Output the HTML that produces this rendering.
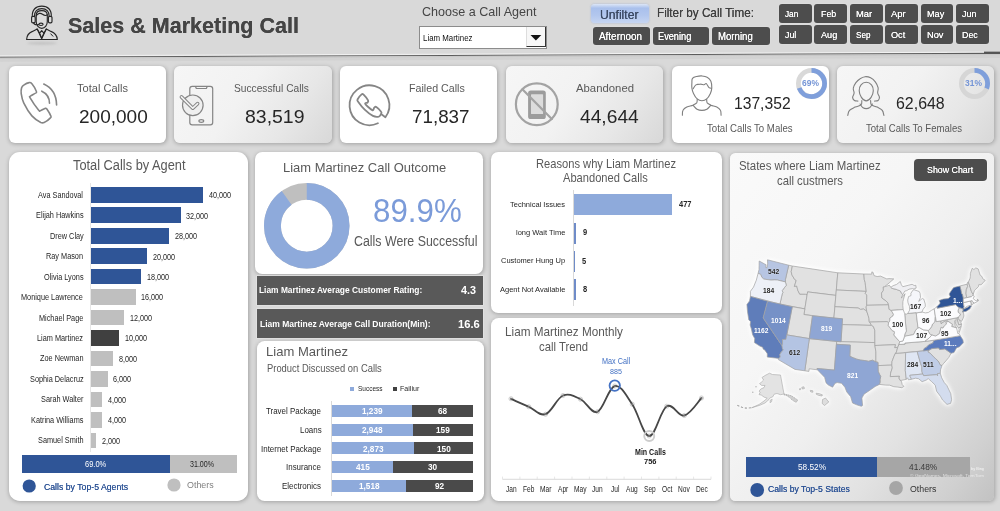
<!DOCTYPE html>
<html><head><meta charset="utf-8"><title>Sales &amp; Marketing Call</title>
<style>
html,body{margin:0;padding:0;}
body{width:1000px;height:511px;overflow:hidden;background:#d9d9d9;font-family:"Liberation Sans",sans-serif;}
#root{position:relative;width:1000px;height:511px;overflow:hidden;background:#d9d9d9;}
#root>div,#root>svg,#root>span{position:absolute;}
#root>span{white-space:nowrap;line-height:1;transform-origin:0 50%;}
</style></head><body><div id="root">
<svg style="left:0;top:0" width="1000" height="70" viewBox="0 0 1000 70"><line x1="0" y1="55.9" x2="1000" y2="52.1" stroke="#f2f2f2" stroke-width="1"/><line x1="0" y1="57.2" x2="1000" y2="53.4" stroke="#5c5c5c" stroke-width="1.1"/><line x1="0" y1="58.5" x2="1000" y2="54.7" stroke="#c9c9c9" stroke-width="1.5"/><line x1="0" y1="60.5" x2="1000" y2="56.7" stroke="#d2d2d2" stroke-width="2.5"/><rect x="984" y="51.6" width="16" height="2.2" fill="#555"/></svg>
<div style="left:419px;top:26px;width:128px;height:22.5px;background:#fff;border-radius:0px;border:1px solid #8c8c8c;box-sizing:border-box;"></div>
<div style="left:526px;top:27px;width:19.5px;height:20px;background:#f7f7f7;border-radius:0px;border-right:1.5px solid #333;border-bottom:1.5px solid #333;border-left:1px solid #ddd;box-sizing:border-box;"></div>
<svg style="left:526px;top:27px" width="20" height="20"><path d="M4.5 8 L15.3 8 L9.9 13.6 Z" fill="#111"/></svg>
<div style="left:591px;top:4.2px;width:58.4px;height:19.0px;background:linear-gradient(#dde6f6 0%,#a9c0ec 22%,#b3c7ee 60%,#c6d5f1 100%);border-radius:3.5px;box-shadow:0 0 2px rgba(120,150,210,.55);"></div>
<div style="left:592.5px;top:27px;width:57.0px;height:18px;background:#4d4d4d;border-radius:3px;box-shadow:0 0 0 .9px #dcdcdc;"></div>
<div style="left:652.5px;top:27px;width:56.5px;height:18px;background:#4d4d4d;border-radius:3px;box-shadow:0 0 0 .9px #dcdcdc;"></div>
<div style="left:712px;top:27px;width:57.5px;height:18px;background:#4d4d4d;border-radius:3px;box-shadow:0 0 0 .9px #dcdcdc;"></div>
<div style="left:779px;top:4px;width:32.8px;height:18.7px;background:#4d4d4d;border-radius:3px;box-shadow:0 0 0 .9px #dcdcdc;"></div>
<div style="left:779px;top:25.2px;width:32.8px;height:18.8px;background:#4d4d4d;border-radius:3px;box-shadow:0 0 0 .9px #dcdcdc;"></div>
<div style="left:814.3px;top:4px;width:32.8px;height:18.7px;background:#4d4d4d;border-radius:3px;box-shadow:0 0 0 .9px #dcdcdc;"></div>
<div style="left:814.3px;top:25.2px;width:32.8px;height:18.8px;background:#4d4d4d;border-radius:3px;box-shadow:0 0 0 .9px #dcdcdc;"></div>
<div style="left:849.8px;top:4px;width:32.8px;height:18.7px;background:#4d4d4d;border-radius:3px;box-shadow:0 0 0 .9px #dcdcdc;"></div>
<div style="left:849.8px;top:25.2px;width:32.8px;height:18.8px;background:#4d4d4d;border-radius:3px;box-shadow:0 0 0 .9px #dcdcdc;"></div>
<div style="left:885.2px;top:4px;width:32.8px;height:18.7px;background:#4d4d4d;border-radius:3px;box-shadow:0 0 0 .9px #dcdcdc;"></div>
<div style="left:885.2px;top:25.2px;width:32.8px;height:18.8px;background:#4d4d4d;border-radius:3px;box-shadow:0 0 0 .9px #dcdcdc;"></div>
<div style="left:920.7px;top:4px;width:32.8px;height:18.7px;background:#4d4d4d;border-radius:3px;box-shadow:0 0 0 .9px #dcdcdc;"></div>
<div style="left:920.7px;top:25.2px;width:32.8px;height:18.8px;background:#4d4d4d;border-radius:3px;box-shadow:0 0 0 .9px #dcdcdc;"></div>
<div style="left:956px;top:4px;width:32.8px;height:18.7px;background:#4d4d4d;border-radius:3px;box-shadow:0 0 0 .9px #dcdcdc;"></div>
<div style="left:956px;top:25.2px;width:32.8px;height:18.8px;background:#4d4d4d;border-radius:3px;box-shadow:0 0 0 .9px #dcdcdc;"></div>
<div style="left:8.8px;top:65.6px;width:157.7px;height:77.4px;background:#fff;border-radius:6px;box-shadow:0.5px 1px 4.5px rgba(0,0,0,.26);"></div>
<div style="left:174.3px;top:65.6px;width:157.5px;height:77.4px;background:linear-gradient(125deg,#f6f6f6 0%,#f2f2f2 42%,#e7e7e7 72%,#d8d8d8 100%);border-radius:6px;box-shadow:0.5px 1px 4.5px rgba(0,0,0,.26);"></div>
<div style="left:339.8px;top:65.6px;width:157.5px;height:77.4px;background:#fff;border-radius:6px;box-shadow:0.5px 1px 4.5px rgba(0,0,0,.26);"></div>
<div style="left:505.7px;top:65.6px;width:157.2px;height:77.4px;background:linear-gradient(125deg,#f6f6f6 0%,#f2f2f2 42%,#e7e7e7 72%,#d8d8d8 100%);border-radius:6px;box-shadow:0.5px 1px 4.5px rgba(0,0,0,.26);"></div>
<div style="left:671.8px;top:65.6px;width:157.0px;height:77.4px;background:#fff;border-radius:6px;box-shadow:0.5px 1px 4.5px rgba(0,0,0,.26);"></div>
<div style="left:837.3px;top:65.6px;width:157.0px;height:77.4px;background:linear-gradient(125deg,#f6f6f6 0%,#f2f2f2 42%,#e7e7e7 72%,#d8d8d8 100%);border-radius:6px;box-shadow:0.5px 1px 4.5px rgba(0,0,0,.26);"></div>
<svg style="left:0;top:0" width="1000" height="150" viewBox="0 0 1000 150" fill="none" stroke-linecap="round" stroke-linejoin="round"><ellipse cx="42" cy="43.3" rx="15" ry="1.5" fill="#9a9a9a" opacity=".35" style="filter:blur(1.2px)"/><g stroke="#262626" stroke-width="1.15"><path d="M26.6 39.5 C26.8 34.5 29.5 32.6 32.5 31.4 L37.2 29 L41.7 38.6 L46.3 29 L51 31.4 C54 32.6 57 34.5 57.3 39.5 Z" fill="#dcdcdc"/><path d="M37.2 29 L39.6 33.2 L41.7 30.6 L43.9 33.2 L46.3 29 M39.6 33.2 L41.7 38.4 L43.9 33.2" /><path d="M50.8 33.9 L52.9 36.2" stroke-width="1"/><path d="M36.2 15.2 C36.2 12 38.8 10.6 41.8 10.6 C44.8 10.6 47.3 12 47.3 15.2 L47.3 21.5 C47.3 25.5 44.8 28.3 41.8 28.3 C38.8 28.3 36.2 25.5 36.2 21.5 Z" fill="#dcdcdc"/><path d="M36.2 15.8 C38 13 40.5 12.7 42.5 14.2 C44.2 15.5 46 15.9 47.3 14.8"/><path d="M32.3 17 C31.8 9.5 36 6.1 41.8 6.1 C47.6 6.1 51.8 9.5 51.3 17"/><path d="M34.4 16.6 C34.2 11.3 37.3 8.6 41.8 8.6 C46.3 8.6 49.4 11.3 49.2 16.6"/><rect x="31.6" y="16.3" width="3.6" height="6.6" rx="1.3" fill="#dcdcdc"/><rect x="48.4" y="16.3" width="3.6" height="6.6" rx="1.3" fill="#dcdcdc"/><path d="M33.6 22.9 C34 24.6 36 25 38.8 24.6"/><ellipse cx="41" cy="24.2" rx="2.1" ry="1.1" fill="#fff"/></g><path d="M23.7 85.1C25.0 84.2 27.8 82.8 29.2 82.6C30.5 82.4 30.7 82.3 31.9 83.7C33.1 85.1 35.7 89.7 36.3 91.2C36.9 92.8 36.7 92.2 35.8 93.0C34.8 93.8 31.5 95.2 30.5 96.0C29.6 96.9 28.9 95.8 30.3 98.1C31.6 100.4 36.8 107.9 38.5 110.0C40.2 112.1 39.3 111.0 40.4 110.7C41.6 110.4 44.2 108.6 45.3 108.4C46.4 108.1 46.1 108.1 47.0 109.3C47.9 110.6 50.3 114.5 50.8 115.9C51.4 117.3 51.4 116.9 50.4 117.9C49.4 119.0 46.5 121.3 44.9 122.1C43.3 122.8 43.0 123.5 40.8 122.5C38.7 121.4 34.8 119.2 31.9 115.9C29.1 112.6 25.5 106.6 23.7 102.9C21.9 99.1 21.6 95.8 21.2 93.3C20.9 90.8 21.2 89.2 21.6 87.8C22.1 86.4 22.4 85.9 23.7 85.1Z" stroke="#858585" stroke-width="1.6"/><path d="M41.8 91.2 Q49.4 94.6 49.5 103.3 M43.8 84.1 Q56.2 89.8 56.6 104.9" stroke="#858585" stroke-width="1.6"/><g stroke="#858585" stroke-width="1.2"><rect x="189.8" y="86.4" width="22.9" height="38.4" rx="2.4"/><path d="M195.5 86.6 L196.3 88.5 L206.4 88.5 L207.2 86.6"/><ellipse cx="201.3" cy="121" rx="2.4" ry="1.3"/><circle cx="192.8" cy="105.3" r="10.3" fill="#efefef"/></g><path d="M181.4 96.9 L192.8 108.2 L197.6 103.6" stroke="#858585" stroke-width="3.6"/><path d="M181.4 96.9 L192.8 108.2 L197.6 103.6" stroke="#f3f3f3" stroke-width="1.6"/><path d="M377.9 123.3 A19.9 19.9 0 1 1 385.4 117.2 L381.4 114.2" stroke="#858585" stroke-width="1.8"/><path d="M357.5 99.5C358.1 98.2 360.6 95.2 361.6 94.4C362.6 93.6 362.5 93.7 363.6 94.7C364.6 95.7 367.4 99.1 368.1 100.4C368.7 101.7 367.9 102.0 367.4 102.6C366.9 103.2 364.5 102.7 365.3 104.0C366.1 105.2 370.7 109.5 372.2 110.1C373.7 110.8 373.6 108.2 374.2 107.7C374.9 107.1 375.2 106.3 376.3 107.0C377.4 107.7 380.3 110.6 381.1 111.8C381.9 112.9 381.5 113.0 381.1 113.8C380.7 114.6 380.1 116.2 378.8 116.6C377.4 116.9 375.2 117.0 372.9 115.9C370.5 114.7 367.1 112.0 364.7 109.7C362.3 107.4 359.7 103.9 358.5 102.2C357.3 100.5 357.0 100.8 357.5 99.5Z" stroke="#858585" stroke-width="1.8"/><circle cx="536.8" cy="104.2" r="20.9" stroke="#a3a3a3" stroke-width="2.2"/><rect x="528.1" y="90.4" width="17.7" height="28.6" rx="2.6" fill="#9c9c9c"/><rect x="531" y="94.2" width="12.1" height="19.8" rx=".6" fill="#dcdcdc"/><path d="M522.6 89.4 L551.8 119" stroke="#a3a3a3" stroke-width="2.2"/><g stroke="#7f7f7f" stroke-width="1.1"><path d="M692.5 78.4C693.5 77.1 694.8 76.9 696.7 76.5C698.5 76.0 699.5 75.8 701.6 75.9C703.7 76.1 705.4 76.2 707.2 77.3C709.1 78.4 710.0 79.0 710.9 81.2C711.8 83.4 711.9 85.6 711.8 88.1C711.7 90.5 711.4 91.2 710.4 93.4C709.4 95.5 708.4 97.5 706.7 98.9C705.0 100.4 703.8 100.7 701.9 100.7C700.0 100.7 698.9 100.4 697.2 98.9C695.5 97.5 694.5 95.5 693.5 93.4C692.4 91.2 692.2 90.2 691.9 88.1C691.6 86.0 691.8 84.7 691.9 82.8C692.0 80.8 691.6 79.6 692.5 78.4Z"/><path d="M693.2 88.7C693.6 88.1 694.7 85.7 695.9 84.9C697.1 84.1 699.0 84.1 700.4 84.1C701.7 84.0 703.1 84.8 704.0 84.7C705.0 84.6 705.4 83.1 706.3 83.6C707.1 84.1 708.1 86.9 709.0 87.6C709.9 88.4 711.1 88.2 711.5 88.3"/><path d="M682.4 115.3C682.5 114.3 682.1 111.9 683.0 110.3C683.9 108.6 684.8 108.1 686.8 107.1C688.8 106.1 691.0 106.0 693.0 105.2C694.9 104.3 695.8 104.0 696.7 102.9C697.5 101.7 697.1 100.0 697.2 99.3"/><path d="M706.7 99.3C706.8 100.0 706.4 101.7 707.2 102.9C708.1 104.0 709.0 104.3 710.9 105.2C712.8 106.0 714.9 106.1 716.8 107.1C718.7 108.1 719.6 108.6 720.4 110.3C721.3 111.9 720.9 114.3 721.1 115.3"/><path d="M693.0 105.2C693.8 106.0 695.2 108.2 697.0 109.2C698.8 110.2 699.9 110.4 701.9 110.4C703.9 110.4 705.1 110.2 706.9 109.2C708.7 108.2 710.1 106.0 710.9 105.2"/></g><g stroke="#7f7f7f" stroke-width="1.1"><path d="M857.9 101.1C857.2 101.0 855.4 101.2 854.4 100.5C853.3 99.7 852.7 98.9 852.6 97.4C852.6 95.9 854.0 94.9 854.1 93.0C854.3 91.2 852.9 90.2 853.3 88.2C853.6 86.1 854.5 84.6 855.9 82.7C857.3 80.8 858.2 79.9 860.1 78.7C861.9 77.5 863.0 76.9 865.1 76.7C867.3 76.5 868.6 76.8 870.6 77.8C872.7 78.8 873.8 79.8 875.3 81.8C876.8 83.8 877.6 85.5 878.1 87.7C878.6 90.0 877.4 91.1 877.7 93.0C878.0 94.9 879.4 95.9 879.4 97.4C879.5 98.9 879.1 99.7 878.1 100.5C877.2 101.2 875.3 101.0 874.6 101.1"/><path d="M859.2 90.8C859.1 88.3 859.6 86.6 861.0 84.9C862.4 83.1 864.1 82.2 866.2 82.2C868.4 82.2 870.1 83.1 871.5 84.9C872.9 86.6 873.4 88.3 873.3 90.8C873.2 93.3 872.5 95.4 871.1 97.4C869.7 99.4 868.2 100.9 866.2 100.9C864.3 100.9 862.8 99.4 861.4 97.4C860.0 95.4 859.3 93.3 859.2 90.8Z"/><path d="M860.1 104.0C860.6 104.7 861.5 106.6 862.7 107.5C864.0 108.4 864.8 108.6 866.2 108.6C867.7 108.6 868.5 108.4 869.8 107.5C871.0 106.6 871.9 104.7 872.4 104.0"/><path d="M847.8 115.4C848.1 114.4 848.0 112.1 849.5 110.4C851.0 108.7 853.0 108.2 855.2 107.1C857.5 106.0 859.6 106.2 861.0 104.9C862.3 103.6 861.7 101.4 861.8 100.5"/><path d="M870.6 100.5C870.8 101.4 870.2 103.6 871.5 104.9C872.8 106.2 875.1 106.0 877.2 107.1C879.4 108.2 881.0 108.7 882.3 110.4C883.6 112.1 883.5 114.4 883.9 115.4"/></g></svg>
<svg style="left:793.50px;top:66.20px" width="35.00" height="35.00"><circle cx="17.5" cy="17.5" r="13.10" fill="none" stroke="#d9d9d9" stroke-width="4.80"/><circle cx="17.5" cy="17.5" r="13.10" fill="none" stroke="#7f9fdb" stroke-width="4.80" stroke-dasharray="56.79 82.31" transform="rotate(-90.0 17.5 17.5)"/></svg>
<svg style="left:956.50px;top:66.20px" width="35.00" height="35.00"><circle cx="17.5" cy="17.5" r="13.10" fill="none" stroke="#d6d6d6" stroke-width="4.80"/><circle cx="17.5" cy="17.5" r="13.10" fill="none" stroke="#7f9fdb" stroke-width="4.80" stroke-dasharray="25.52 82.31" transform="rotate(-90.0 17.5 17.5)"/></svg>
<div style="left:8.8px;top:152.2px;width:239.5px;height:348.8px;background:#fff;border-radius:10.8px;box-shadow:0.5px 1px 4.5px rgba(0,0,0,.26);"></div>
<div style="left:90.15px;top:183px;width:0.8px;height:269px;background:#e6e6e6;border-radius:0px;"></div>
<div style="left:90.75px;top:187.0px;width:112.2px;height:15.6px;background:#2f5597;border-radius:0px;"></div>
<div style="left:90.75px;top:207.46px;width:89.76px;height:15.6px;background:#2f5597;border-radius:0px;"></div>
<div style="left:90.75px;top:227.92000000000002px;width:78.54px;height:15.6px;background:#2f5597;border-radius:0px;"></div>
<div style="left:90.75px;top:248.38px;width:56.1px;height:15.6px;background:#2f5597;border-radius:0px;"></div>
<div style="left:90.75px;top:268.84000000000003px;width:50.49px;height:15.6px;background:#2f5597;border-radius:0px;"></div>
<div style="left:90.75px;top:289.3px;width:44.88px;height:15.6px;background:#bfbfbf;border-radius:0px;"></div>
<div style="left:90.75px;top:309.76px;width:33.66px;height:15.6px;background:#bfbfbf;border-radius:0px;"></div>
<div style="left:90.75px;top:330.22px;width:28.05px;height:15.6px;background:#404040;border-radius:0px;"></div>
<div style="left:90.75px;top:350.68px;width:22.44px;height:15.6px;background:#bfbfbf;border-radius:0px;"></div>
<div style="left:90.75px;top:371.14px;width:16.83px;height:15.6px;background:#bfbfbf;border-radius:0px;"></div>
<div style="left:90.75px;top:391.6px;width:11.22px;height:15.6px;background:#bfbfbf;border-radius:0px;"></div>
<div style="left:90.75px;top:412.06px;width:11.22px;height:15.6px;background:#bfbfbf;border-radius:0px;"></div>
<div style="left:90.75px;top:432.52px;width:5.61px;height:15.6px;background:#bfbfbf;border-radius:0px;"></div>
<div style="left:22px;top:455px;width:147.5px;height:18.3px;background:#2f5597;border-radius:0px;"></div>
<div style="left:169.5px;top:455px;width:67.3px;height:18.3px;background:#bfbfbf;border-radius:0px;"></div>
<svg style="left:20px;top:476px" width="200" height="20"><circle cx="9.2" cy="10" r="6.6" fill="#2f5597"/><circle cx="154" cy="9" r="6.6" fill="#bfbfbf"/></svg>
<div style="left:255px;top:152px;width:228px;height:121.6px;background:#fff;border-radius:7.2px;box-shadow:0.5px 1px 4.5px rgba(0,0,0,.26);"></div>
<svg style="left:262.00px;top:180.75px" width="89.50" height="89.50"><circle cx="44.75" cy="44.75" r="34.33" fill="none" stroke="#bfbfbf" stroke-width="16.85"/><circle cx="44.75" cy="44.75" r="34.33" fill="none" stroke="#8eaadb" stroke-width="16.85" stroke-dasharray="193.89 215.67" transform="rotate(-90.0 44.75 44.75)"/></svg>
<div style="left:256.6px;top:276.2px;width:226.8px;height:28.6px;background:#595959;border-radius:0px;box-shadow:0 0 0 .7px #e4e4e4;"></div>
<div style="left:256.6px;top:308.8px;width:226.8px;height:29.2px;background:#595959;border-radius:0px;box-shadow:0 0 0 .7px #e4e4e4;"></div>
<div style="left:257px;top:341.2px;width:227px;height:159.8px;background:#fff;border-radius:7.6px;box-shadow:0.5px 1px 4.5px rgba(0,0,0,.26);"></div>
<div style="left:350px;top:386.6px;width:4.4px;height:4.2px;background:#8eaadb;border-radius:0px;"></div>
<div style="left:392.5px;top:386.6px;width:4.4px;height:4.2px;background:#404040;border-radius:0px;"></div>
<div style="left:331.2px;top:401px;width:0.7px;height:95px;background:#d9d9d9;border-radius:0px;"></div>
<div style="left:331.9px;top:405px;width:80.3px;height:12.1px;background:#8eaadb;border-radius:0px;"></div>
<div style="left:412.2px;top:405px;width:60.5px;height:12.1px;background:#4a4a4a;border-radius:0px;"></div>
<div style="left:331.9px;top:423.5px;width:80.7px;height:12.1px;background:#8eaadb;border-radius:0px;"></div>
<div style="left:412.6px;top:423.5px;width:60.1px;height:12.1px;background:#4a4a4a;border-radius:0px;"></div>
<div style="left:331.9px;top:442.25px;width:82.4px;height:12.1px;background:#8eaadb;border-radius:0px;"></div>
<div style="left:414.3px;top:442.25px;width:58.4px;height:12.1px;background:#4a4a4a;border-radius:0px;"></div>
<div style="left:331.9px;top:461px;width:61.5px;height:12.1px;background:#8eaadb;border-radius:0px;"></div>
<div style="left:393.4px;top:461px;width:79.3px;height:12.1px;background:#4a4a4a;border-radius:0px;"></div>
<div style="left:331.9px;top:479.5px;width:73.9px;height:12.1px;background:#8eaadb;border-radius:0px;"></div>
<div style="left:405.8px;top:479.5px;width:66.9px;height:12.1px;background:#4a4a4a;border-radius:0px;"></div>
<div style="left:491.4px;top:152.4px;width:230.9px;height:160.4px;background:#fff;border-radius:7.2px;box-shadow:0.5px 1px 4.5px rgba(0,0,0,.26);"></div>
<div style="left:573.05px;top:190px;width:0.7px;height:116px;background:#d9d9d9;border-radius:0px;"></div>
<div style="left:573.75px;top:194.25px;width:97.75px;height:21.0px;background:#8eaadb;border-radius:0px;"></div>
<div style="left:573.75px;top:222.5px;width:1.8px;height:21.0px;background:#6f8cc8;border-radius:0px;"></div>
<div style="left:573.75px;top:250.75px;width:1.5px;height:21.0px;background:#6f8cc8;border-radius:0px;"></div>
<div style="left:573.75px;top:279.0px;width:1.8px;height:21.0px;background:#6f8cc8;border-radius:0px;"></div>
<div style="left:491.4px;top:318px;width:230.9px;height:183px;background:#fff;border-radius:7.6px;box-shadow:0.5px 1px 4.5px rgba(0,0,0,.26);"></div>
<svg style="left:0;top:0" width="1000" height="511" viewBox="0 0 1000 511" fill="none"><path d="M502.5 479.3 H711" stroke="#d0d0d0" stroke-width=".8"/><path d="M502.5 476.6 V479.3" stroke="#dcdcdc" stroke-width=".7"/><path d="M519.9 476.6 V479.3" stroke="#dcdcdc" stroke-width=".7"/><path d="M537.2 476.6 V479.3" stroke="#dcdcdc" stroke-width=".7"/><path d="M554.6 476.6 V479.3" stroke="#dcdcdc" stroke-width=".7"/><path d="M572.0 476.6 V479.3" stroke="#dcdcdc" stroke-width=".7"/><path d="M589.4 476.6 V479.3" stroke="#dcdcdc" stroke-width=".7"/><path d="M606.8 476.6 V479.3" stroke="#dcdcdc" stroke-width=".7"/><path d="M624.1 476.6 V479.3" stroke="#dcdcdc" stroke-width=".7"/><path d="M641.5 476.6 V479.3" stroke="#dcdcdc" stroke-width=".7"/><path d="M658.9 476.6 V479.3" stroke="#dcdcdc" stroke-width=".7"/><path d="M676.2 476.6 V479.3" stroke="#dcdcdc" stroke-width=".7"/><path d="M693.6 476.6 V479.3" stroke="#dcdcdc" stroke-width=".7"/><path d="M711.0 476.6 V479.3" stroke="#dcdcdc" stroke-width=".7"/><circle cx="511" cy="398.75" r="2.1" fill="#ececec" stroke="#c4c4c4" stroke-width=".7"/><circle cx="528.75" cy="406.75" r="2.1" fill="#ececec" stroke="#c4c4c4" stroke-width=".7"/><circle cx="545.5" cy="414.25" r="2.1" fill="#ececec" stroke="#c4c4c4" stroke-width=".7"/><circle cx="563" cy="395.5" r="2.1" fill="#ececec" stroke="#c4c4c4" stroke-width=".7"/><circle cx="580.5" cy="399.25" r="2.1" fill="#ececec" stroke="#c4c4c4" stroke-width=".7"/><circle cx="597.5" cy="411.75" r="2.1" fill="#ececec" stroke="#c4c4c4" stroke-width=".7"/><circle cx="614.75" cy="386" r="2.1" fill="#ececec" stroke="#c4c4c4" stroke-width=".7"/><circle cx="632.25" cy="404.25" r="2.1" fill="#ececec" stroke="#c4c4c4" stroke-width=".7"/><circle cx="649.25" cy="436" r="2.1" fill="#ececec" stroke="#c4c4c4" stroke-width=".7"/><circle cx="666.75" cy="406.25" r="2.1" fill="#ececec" stroke="#c4c4c4" stroke-width=".7"/><circle cx="684.25" cy="415.5" r="2.1" fill="#ececec" stroke="#c4c4c4" stroke-width=".7"/><circle cx="701.5" cy="398" r="2.1" fill="#ececec" stroke="#c4c4c4" stroke-width=".7"/><path d="M511.0 398.8C514.3 400.2 522.4 403.9 528.8 406.8C535.1 409.6 539.2 416.3 545.5 414.2C551.8 412.2 556.6 398.2 563.0 395.5C569.4 392.8 574.2 396.3 580.5 399.2C586.8 402.2 591.2 414.2 597.5 411.8C603.8 409.3 608.4 387.4 614.8 386.0C621.1 384.6 625.9 395.1 632.2 404.2C638.6 413.4 642.9 435.6 649.2 436.0C655.6 436.4 660.3 410.0 666.8 406.2C673.2 402.5 677.9 417.0 684.2 415.5C690.6 414.0 698.3 401.2 701.5 398.0" stroke="#474747" stroke-width="1.8" stroke-linecap="round"/><circle cx="511" cy="398.75" r="1.1" fill="#9a9a9a" opacity=".55"/><circle cx="528.75" cy="406.75" r="1.1" fill="#9a9a9a" opacity=".55"/><circle cx="545.5" cy="414.25" r="1.1" fill="#9a9a9a" opacity=".55"/><circle cx="563" cy="395.5" r="1.1" fill="#9a9a9a" opacity=".55"/><circle cx="580.5" cy="399.25" r="1.1" fill="#9a9a9a" opacity=".55"/><circle cx="597.5" cy="411.75" r="1.1" fill="#9a9a9a" opacity=".55"/><circle cx="614.75" cy="386" r="1.1" fill="#9a9a9a" opacity=".55"/><circle cx="632.25" cy="404.25" r="1.1" fill="#9a9a9a" opacity=".55"/><circle cx="649.25" cy="436" r="1.1" fill="#9a9a9a" opacity=".55"/><circle cx="666.75" cy="406.25" r="1.1" fill="#9a9a9a" opacity=".55"/><circle cx="684.25" cy="415.5" r="1.1" fill="#9a9a9a" opacity=".55"/><circle cx="701.5" cy="398" r="1.1" fill="#9a9a9a" opacity=".55"/><circle cx="614.75" cy="385.6" r="5.2" stroke="#4472c4" stroke-width="1.8"/><circle cx="649.25" cy="436" r="5.0" stroke="#cdcdcd" stroke-width="1.9"/></svg>
<div style="left:730px;top:152.6px;width:263.6px;height:348.4px;background:linear-gradient(127deg,#fafafa 0%,#f6f6f6 35%,#efefef 55%,#e2e2e2 73%,#d0d0d0 90%,#c2c2c2 100%);border-radius:5.5px;box-shadow:0.5px 1px 4.5px rgba(0,0,0,.26);"></div>
<div style="left:914.3px;top:159px;width:72.5px;height:22.4px;background:#4d4d4d;border-radius:4px;box-shadow:0 0 0 1.1px #f4f4f4;"></div>
<svg style="left:0;top:0" width="1000" height="511" viewBox="0 0 1000 511" stroke-linejoin="round"><g style="filter:drop-shadow(0 0 2.5px rgba(255,255,255,.95)) drop-shadow(0 0 1.5px rgba(255,255,255,.8))"><path d="M788.7 265.2L792.4 266.0L791.2 271.6L791.9 274.9L794.7 279.5L796.2 280.4L794.4 286.4L796.7 286.0L797.9 290.5L799.7 294.1L805.4 294.2L807.1 294.7L804.9 308.9L779.9 304.1L782.2 294.0L782.9 292.4L782.2 290.6L784.3 287.8L786.3 285.3L785.4 281.9L785.4 279.6L788.7 265.2Z" fill="#e1e1e1" stroke="#a0a0a0" stroke-width=".7"/><path d="M792.4 266.0L791.2 271.6L791.9 274.9L794.7 279.5L796.2 280.4L794.4 286.4L796.7 286.0L797.9 290.5L799.7 294.1L805.4 294.2L807.1 294.7L807.6 291.9L835.9 295.4L837.8 272.8Z" fill="#e1e1e1" stroke="#a0a0a0" stroke-width=".7"/><path d="M807.6 291.9L835.9 295.4L833.9 318.2L803.9 314.5Z" fill="#e1e1e1" stroke="#a0a0a0" stroke-width=".7"/><path d="M792.3 306.7L804.9 308.9L803.9 314.5L812.5 315.8L809.3 338.6L786.8 334.9Z" fill="#e1e1e1" stroke="#a0a0a0" stroke-width=".7"/><path d="M809.3 338.6L836.7 341.5L836.5 344.3L834.4 370.1L817.1 368.5L817.4 369.8L809.2 368.8L808.9 371.4L804.8 370.8Z" fill="#e1e1e1" stroke="#a0a0a0" stroke-width=".7"/><path d="M837.8 272.8L863.9 274.0L864.3 279.7L865.2 282.5L865.5 285.9L866.3 291.4L836.3 290.0Z" fill="#e1e1e1" stroke="#a0a0a0" stroke-width=".7"/><path d="M836.3 290.0L866.3 291.4L865.2 293.3L866.8 295.0L866.7 305.3L866.1 307.0L866.7 311.1L863.5 309.0L860.6 309.4L858.1 308.0L834.9 306.7Z" fill="#e1e1e1" stroke="#a0a0a0" stroke-width=".7"/><path d="M834.9 306.7L858.1 308.0L860.6 309.4L863.5 309.0L866.7 311.1L868.2 315.6L869.0 318.5L869.2 321.4L869.6 322.1L871.6 325.4L842.1 324.6L842.5 318.8L833.9 318.2Z" fill="#e1e1e1" stroke="#a0a0a0" stroke-width=".7"/><path d="M842.1 324.6L871.6 325.4L873.4 326.5L874.8 330.3L874.9 342.6L841.0 341.8Z" fill="#e1e1e1" stroke="#a0a0a0" stroke-width=".7"/><path d="M836.7 341.5L874.9 342.6L874.9 345.5L875.9 351.8L875.9 361.9L872.4 360.2L868.6 361.3L864.3 360.5L860.5 360.1L856.8 359.2L853.5 357.9L849.8 356.3L850.3 345.1L836.5 344.3Z" fill="#e1e1e1" stroke="#a0a0a0" stroke-width=".7"/><path d="M863.9 274.0L871.8 274.1L871.8 271.9L873.1 272.4L874.0 275.6L877.1 276.5L880.5 276.1L884.1 277.7L886.8 278.9L889.0 278.6L893.8 278.9L889.0 283.1L884.4 286.8L883.3 287.0L883.4 290.4L881.5 293.1L881.9 298.0L885.0 300.1L888.0 302.9L888.5 304.8L866.7 305.3L866.8 295.0L865.2 293.3L866.3 291.4L865.5 285.9L865.2 282.5L864.3 279.7L863.9 274.0Z" fill="#e1e1e1" stroke="#a0a0a0" stroke-width=".7"/><path d="M866.7 305.3L888.5 304.8L889.2 309.4L891.2 310.4L893.5 314.3L892.8 316.1L889.9 318.0L889.8 320.9L888.5 322.8L887.1 321.6L869.6 322.1L869.2 321.4L869.0 318.5L868.2 315.6L866.7 311.1L866.1 307.0L866.7 305.3Z" fill="#e1e1e1" stroke="#a0a0a0" stroke-width=".7"/><path d="M869.6 322.1L887.1 321.6L888.5 322.8L888.3 325.5L892.1 330.5L894.4 331.6L894.5 332.7L893.9 335.0L898.1 340.0L899.8 341.7L898.9 344.5L897.7 347.5L894.6 347.7L895.4 344.7L874.9 345.5L874.9 342.6L874.8 330.3L873.4 326.5L871.6 325.4L869.6 322.1Z" fill="#e1e1e1" stroke="#a0a0a0" stroke-width=".7"/><path d="M874.9 345.5L895.4 344.7L894.6 347.7L897.7 347.5L896.2 352.8L895.3 353.4L894.0 356.3L892.0 361.6L891.8 365.1L878.0 365.6L878.0 362.4L875.9 361.9L875.9 351.8L874.9 345.5Z" fill="#e1e1e1" stroke="#a0a0a0" stroke-width=".7"/><path d="M878.0 365.6L891.8 365.1L892.3 367.9L890.6 373.2L890.3 376.6L899.5 376.1L899.0 378.1L900.4 380.6L901.5 381.4L902.2 384.5L903.9 386.4L901.9 387.7L897.8 387.1L893.8 386.7L889.7 385.2L885.7 385.1L879.4 384.4L880.1 382.1L880.0 379.8L880.7 376.4L879.4 374.1L878.2 371.3L878.0 365.6Z" fill="#e1e1e1" stroke="#a0a0a0" stroke-width=".7"/><path d="M891.8 365.1L892.0 361.6L894.0 356.3L895.3 353.4L905.1 352.7L905.6 353.2L905.3 370.5L906.3 379.3L900.4 380.6L899.0 378.1L899.5 376.1L890.3 376.6L890.6 373.2L892.3 367.9Z" fill="#e1e1e1" stroke="#a0a0a0" stroke-width=".7"/><path d="M928.8 350.2L931.9 348.6L938.2 347.9L938.8 348.1L939.7 349.6L944.9 348.9L951.1 353.3L948.7 357.6L945.9 360.9L943.4 363.7L942.0 365.5L940.5 365.3L938.1 361.0L935.8 358.8L934.2 357.5L930.2 353.2L927.9 352.0L928.8 350.2Z" fill="#e1e1e1" stroke="#a0a0a0" stroke-width=".7"/><path d="M895.3 353.4L923.2 350.9L924.3 348.4L926.5 347.2L929.0 344.6L930.3 344.2L932.9 342.9L934.0 340.2L924.9 341.4L904.9 343.0L905.0 344.1L898.9 344.5L897.7 347.5L896.2 352.8L895.3 353.4Z" fill="#e1e1e1" stroke="#a0a0a0" stroke-width=".7"/><path d="M928.3 330.4L929.9 329.1L931.6 326.5L932.5 324.1L934.8 322.0L935.1 316.7L935.4 316.4L936.3 321.6L940.8 320.9L941.3 323.8L943.1 322.0L945.6 320.7L946.3 320.0L948.8 321.7L946.0 321.8L946.5 324.1L944.4 325.8L942.9 328.2L941.2 327.3L939.3 333.8L935.6 336.1L931.9 335.0L930.3 334.6L928.5 331.8L928.3 330.4Z" fill="#e1e1e1" stroke="#a0a0a0" stroke-width=".7"/><path d="M904.7 313.7L906.2 314.2L907.7 313.5L916.2 312.6L916.2 312.9L918.0 327.8L915.7 330.2L914.4 333.0L913.5 334.6L909.9 335.3L906.8 335.8L904.4 336.6L904.9 334.0L906.4 331.0L905.9 327.5L904.7 313.7Z" fill="#e1e1e1" stroke="#a0a0a0" stroke-width=".7"/><path d="M884.4 286.8L883.3 287.0L883.4 290.4L881.5 293.1L881.9 298.0L885.0 300.1L888.0 302.9L888.5 304.8L889.2 309.4L891.2 310.4L903.2 309.6L902.8 305.6L902.9 301.6L903.5 299.2L905.0 293.7L903.6 295.8L901.3 298.0L902.7 294.7L901.7 293.4L900.3 290.9L897.4 289.8L896.2 289.3L892.0 288.4L890.8 287.3L889.3 285.1L887.6 285.8Z" fill="#e1e1e1" stroke="#a0a0a0" stroke-width=".7"/><path d="M959.2 307.6L963.1 308.8L963.1 310.6L962.3 312.0L963.5 312.3L963.9 316.0L963.1 318.3L961.5 321.4L959.3 319.7L957.9 318.3L958.3 317.0L959.4 316.1L960.5 314.1L958.1 312.3L958.1 310.3L959.2 307.6Z" fill="#e1e1e1" stroke="#a0a0a0" stroke-width=".7"/><path d="M956.7 317.8L958.3 317.0L957.9 318.3L958.9 319.8L960.8 322.3L961.5 324.2L958.6 324.8Z" fill="#e1e1e1" stroke="#a0a0a0" stroke-width=".7"/><path d="M940.8 320.9L956.7 317.8L958.6 324.8L961.5 324.2L961.1 326.8L958.4 327.9L957.1 326.1L955.6 323.4L955.9 319.6L954.6 321.0L955.1 325.3L956.6 327.9L953.1 326.9L951.7 326.6L952.3 324.1L950.0 322.8L948.8 321.7L946.3 320.0L945.6 320.7L943.1 322.0L941.3 323.8L940.8 320.9Z" fill="#e1e1e1" stroke="#a0a0a0" stroke-width=".7"/><path d="M970.4 301.0L972.1 300.6L972.3 301.2L973.3 302.1L973.9 303.2L972.6 304.4L971.2 305.0L971.3 304.5L970.4 301.0Z" fill="#e1e1e1" stroke="#a0a0a0" stroke-width=".7"/><path d="M959.9 286.0L967.2 284.1L967.6 286.5L966.3 289.7L966.0 293.4L966.7 297.7L963.3 298.5L962.3 294.0L961.6 293.8L961.0 290.5L959.9 286.0Z" fill="#e1e1e1" stroke="#a0a0a0" stroke-width=".7"/><path d="M967.2 284.1L967.5 282.3L968.4 282.1L970.2 287.5L971.4 291.4L972.8 294.0L973.3 294.0L973.1 295.3L972.8 295.3L971.4 296.7L966.7 297.7L966.0 293.4L966.3 289.7L967.6 286.5L967.2 284.1Z" fill="#e1e1e1" stroke="#a0a0a0" stroke-width=".7"/><path d="M973.3 294.0L972.8 294.0L971.4 291.4L970.2 287.5L968.4 282.1L970.1 278.1L970.3 276.3L970.4 273.3L972.2 268.3L973.9 269.5L975.8 267.9L978.2 268.9L980.2 275.2L982.0 276.5L982.7 278.6L985.2 280.3L983.3 282.6L981.0 284.8L978.8 284.6L978.5 286.5L975.8 289.3L974.5 290.5Z" fill="#e1e1e1" stroke="#a0a0a0" stroke-width=".7"/><path d="M759.2 261.0L764.8 264.1L766.1 264.7L765.8 267.6L766.9 267.6L767.7 264.0L767.5 259.8L788.7 265.2L788.7 265.2L785.4 279.6L785.4 281.9L777.3 280.0L774.8 279.9L771.0 280.1L768.2 279.7L763.8 279.1L761.9 277.4L760.6 274.3L758.1 273.3L759.0 269.7L759.1 265.6Z" fill="#b7c5e2" stroke="#a0a0a0" stroke-width=".7"/><path d="M758.1 273.3L760.6 274.3L761.9 277.4L763.8 279.1L768.2 279.7L771.0 280.1L774.8 279.9L777.3 280.0L785.4 281.9L786.3 285.3L784.3 287.8L782.2 290.6L782.9 292.4L782.2 294.0L779.9 304.1L750.4 296.4L750.4 291.3L753.5 287.1L756.3 280.2Z" fill="#edf0f7" stroke="#a0a0a0" stroke-width=".7"/><path d="M767.6 301.2L763.2 317.9L782.0 345.7L782.5 348.7L783.4 350.1L781.3 352.0L779.8 354.6L780.3 357.0L779.0 358.4L767.3 357.1L767.3 353.7L764.7 349.9L763.0 348.9L762.9 347.4L759.8 346.1L754.4 342.6L754.7 338.5L752.6 334.7L751.4 329.0L750.1 325.0L750.6 321.6L748.8 319.9L747.5 311.7L746.9 304.6L749.5 300.9L750.4 296.4Z" fill="#5f7dba" stroke="#a0a0a0" stroke-width=".7"/><path d="M767.6 301.2L792.3 306.7L786.8 334.9L785.9 339.4L782.6 339.5L782.5 344.6L782.0 345.7L763.2 317.9L767.6 301.2Z" fill="#7691c7" stroke="#a0a0a0" stroke-width=".7"/><path d="M812.5 315.8L842.5 318.8L841.0 341.8L809.3 338.6Z" fill="#8fa6d4" stroke="#a0a0a0" stroke-width=".7"/><path d="M786.8 334.9L809.3 338.6L804.8 370.8L795.0 369.4L778.3 359.6L779.0 358.4L780.3 357.0L779.8 354.6L781.3 352.0L783.4 350.1L782.5 348.7L782.0 345.7L782.5 344.6L782.6 339.5L785.9 339.4L786.8 334.9Z" fill="#b4c4e3" stroke="#a0a0a0" stroke-width=".7"/><path d="M836.3 344.3L850.3 345.1L849.8 356.3L853.5 357.9L856.8 359.2L860.5 360.1L864.3 360.5L868.6 361.3L872.4 360.2L875.9 361.9L878.0 362.4L878.0 365.6L878.2 371.3L879.4 374.1L880.7 376.4L880.0 379.8L880.1 382.1L879.4 384.4L875.2 386.5L869.1 390.8L864.0 394.2L861.9 398.1L862.6 405.5L861.3 406.3L856.6 404.8L852.5 403.0L850.7 396.7L846.8 392.0L844.9 387.3L841.6 383.3L837.2 382.6L835.1 383.3L832.6 387.2L828.4 385.1L826.1 382.9L824.6 377.3L819.7 372.2L817.4 369.8L817.1 368.5L834.4 370.1Z" fill="#8fa6d4" stroke="#a0a0a0" stroke-width=".7"/><path d="M905.1 352.7L917.2 351.6L920.6 363.5L921.8 366.7L921.9 371.3L922.7 374.0L909.9 375.3L910.0 376.2L911.2 378.4L910.8 379.4L908.3 379.8L907.7 377.8L906.3 379.3L905.3 370.5L905.6 353.2L905.1 352.7Z" fill="#dfe6f3" stroke="#a0a0a0" stroke-width=".7"/><path d="M917.2 351.6L928.8 350.2L927.9 352.0L930.2 353.2L934.2 357.5L935.8 358.8L938.1 361.0L940.5 365.3L942.0 365.5L940.5 369.9L940.3 373.3L937.5 373.6L937.6 375.8L936.7 374.7L923.6 375.7L922.7 374.0L921.9 371.3L921.8 366.7L920.6 363.5L917.2 351.6Z" fill="#c0cde7" stroke="#a0a0a0" stroke-width=".7"/><path d="M909.9 375.3L922.7 374.0L923.6 375.7L936.7 374.7L937.6 375.8L937.5 373.6L940.3 373.3L941.7 377.8L944.3 382.6L946.8 385.4L950.8 393.7L951.6 399.8L950.6 403.4L947.0 404.4L942.6 400.1L940.5 396.4L936.6 391.2L935.2 385.1L931.6 381.6L928.2 378.6L926.6 379.9L922.1 381.7L918.7 378.8L915.7 378.2L910.8 379.4L911.2 378.4L910.0 376.2L909.9 375.3Z" fill="#d3dcee" stroke="#a0a0a0" stroke-width=".7"/><path d="M923.2 350.9L924.3 348.4L926.5 347.2L929.0 344.6L930.3 344.2L932.9 342.9L934.0 340.2L960.2 335.7L962.9 339.8L963.4 342.8L959.6 346.7L956.5 347.9L954.0 352.5L951.1 353.3L944.9 348.9L939.7 349.6L938.8 348.1L938.2 347.9L931.9 348.6L928.8 350.2L923.2 350.9Z" fill="#5b7bbd" stroke="#a0a0a0" stroke-width=".7"/><path d="M898.9 344.5L905.0 344.1L904.9 343.0L924.9 341.4L929.0 338.2L931.9 335.0L930.3 334.6L928.5 331.8L928.3 330.4L923.3 329.8L919.4 327.6L918.0 327.8L915.7 330.2L914.4 333.0L913.5 334.6L909.9 335.3L906.8 335.8L904.4 336.6L903.0 340.9L899.8 341.7L898.9 344.5Z" fill="#fafbfd" stroke="#a0a0a0" stroke-width=".7"/><path d="M924.9 341.4L934.0 340.2L960.2 335.7L959.2 333.6L957.8 333.6L957.1 330.2L956.6 327.9L953.1 326.9L951.7 326.6L952.3 324.1L950.0 322.8L948.8 321.7L946.0 321.8L946.5 324.1L944.4 325.8L942.9 328.2L941.2 327.3L939.3 333.8L935.6 336.1L931.9 335.0L929.0 338.2L924.9 341.4Z" fill="#fbfbfd" stroke="#a0a0a0" stroke-width=".7"/><path d="M916.2 312.9L922.0 312.0L925.4 312.9L928.3 312.5L931.5 310.3L934.2 308.8L935.4 316.4L935.1 316.7L934.8 322.0L932.5 324.1L931.6 326.5L929.9 329.1L928.3 330.4L923.3 329.8L919.4 327.6L918.0 327.8L916.2 312.9Z" fill="#fbfbfd" stroke="#a0a0a0" stroke-width=".7"/><path d="M891.2 310.4L903.2 309.6L904.7 313.7L905.9 327.5L906.4 331.0L904.9 334.0L904.4 336.6L903.0 340.9L899.8 341.7L898.1 340.0L893.9 335.0L894.5 332.7L894.4 331.6L892.1 330.5L888.3 325.5L888.5 322.8L889.8 320.9L889.9 318.0L892.8 316.1L893.5 314.3L891.2 310.4Z" fill="#fbfbfd" stroke="#a0a0a0" stroke-width=".7"/><path d="M907.7 313.5L916.2 312.6L916.2 312.9L922.0 312.0L923.1 309.2L925.3 306.5L925.3 304.2L923.8 299.2L922.3 298.5L918.7 301.4L920.5 297.4L920.1 293.4L919.2 291.5L913.9 289.7L912.8 290.3L910.9 293.3L911.0 295.6L908.6 296.5L907.7 300.0L908.0 302.8L909.4 306.2L909.6 310.2Z" fill="#f5f6fa" stroke="#a0a0a0" stroke-width=".7"/><path d="M890.8 287.3L892.0 288.4L896.2 289.3L897.4 289.8L900.3 290.9L901.7 293.4L902.7 294.7L904.8 291.1L906.8 290.6L909.0 289.2L912.6 288.6L913.9 289.0L916.2 288.1L915.8 285.3L914.2 285.5L912.1 284.3L908.2 285.3L902.8 286.7L901.4 284.8L900.3 281.5L896.6 284.4L893.1 285.7Z" fill="#efeff2" stroke="#a0a0a0" stroke-width=".7"/><path d="M934.2 308.8L937.1 306.6L937.3 308.2L955.7 304.6L957.5 306.6L959.2 307.6L958.1 310.3L958.1 312.3L960.5 314.1L959.4 316.1L958.3 317.0L956.7 317.8L940.8 320.9L936.3 321.6L935.4 316.4Z" fill="#fbfbfd" stroke="#a0a0a0" stroke-width=".7"/><path d="M937.3 308.2L937.1 306.6L939.8 303.7L940.0 302.5L939.0 300.6L943.2 299.1L948.2 298.6L950.3 296.7L949.1 294.0L950.9 291.3L953.4 287.8L954.6 287.3L959.9 286.0L961.0 290.5L961.6 293.8L962.3 294.0L963.3 298.5L963.3 302.6L964.1 306.8L963.7 308.1L964.1 308.6L963.8 309.2L966.0 308.0L968.4 307.0L969.4 305.8L971.6 305.8L969.8 309.0L965.9 311.4L963.3 311.7L962.3 312.0L963.1 310.6L963.1 308.8L959.2 307.6L957.5 306.6L955.7 304.6Z" fill="#2f5597" stroke="#a0a0a0" stroke-width=".7"/><path d="M958.4 327.9L961.1 326.8L960.2 329.8L959.2 332.6L958.7 331.6L959.3 328.8Z" fill="#fbfbfd" stroke="#a0a0a0" stroke-width=".7"/><path d="M963.3 302.6L970.4 301.0L971.3 304.5L971.2 305.0L966.9 306.4L964.1 308.6L963.7 308.1L964.1 306.8L963.3 302.6Z" fill="#fcfcfe" stroke="#a0a0a0" stroke-width=".7"/><path d="M963.3 302.6L963.3 298.5L966.7 297.7L971.4 296.7L972.8 295.3L973.1 295.3L974.3 296.2L973.2 298.6L975.2 300.2L976.1 300.9L978.1 300.3L977.3 298.9L978.5 300.7L976.0 302.3L973.9 303.2L973.3 302.1L972.3 301.2L972.1 300.6L970.4 301.0L963.3 302.6Z" fill="#fcfcfe" stroke="#a0a0a0" stroke-width=".7"/><path d="M762.0 377.5L765.0 375.5L769.5 373.2L772.5 374.5L780.5 375.0L784.0 394.0L780.5 394.7L777.0 393.5L774.2 394.2L772.8 396.8L770.2 397.8L769.0 399.5L765.0 403.0L760.0 405.2L753.0 407.4L751.5 407.8L759.0 404.5L764.0 401.0L767.2 398.2L764.2 397.2L761.2 395.0L759.0 394.6L760.2 392.2L759.0 391.2L760.8 389.0L764.0 387.6L765.0 385.4L761.8 385.6L759.5 383.6L761.2 382.4L763.6 380.0Z" fill="#e3e3e3" stroke="#a6a6a6" stroke-width=".6"/><path d="M784.0 394.0L788.0 394.8L791.5 395.8L797.8 400.0L796.2 402.4L792.8 400.6L789.5 397.6L786.2 395.4L783.8 394.8Z" fill="#cfcfcf" stroke="#9a9a9a" stroke-width=".6" stroke-dasharray="1.4 .7"/><path d="M751.0 407.8L746.0 408.1L742.0 407.3L737.2 405.3" fill="none" stroke="#a3a3a3" stroke-width="1.1" stroke-dasharray="2.2 1.8"/><path d="M770.2 400.2L772.2 399.0L771.6 401.8L770.0 402.8Z" fill="#d8d8d8" stroke="#a6a6a6" stroke-width=".5"/><circle cx="756.0" cy="386.8" r=".7" fill="#b0b0b0"/><circle cx="752.8" cy="392.2" r=".7" fill="#b0b0b0"/><path d="M801.8 387.2L804.0 386.8L804.4 388.6L802.2 389.0Z" fill="#dedede" stroke="#a3a3a3" stroke-width=".6"/><path d="M799.4 388.8L800.4 388.4L800.6 389.6L799.6 389.8Z" fill="#dedede" stroke="#a3a3a3" stroke-width=".6"/><path d="M810.2 390.4L812.6 390.6L813.0 392.2L810.8 392.0Z" fill="#dedede" stroke="#a3a3a3" stroke-width=".6"/><path d="M816.2 393.2L819.6 393.8L822.4 394.8L822.0 396.0L818.8 395.4L816.4 394.4Z" fill="#dedede" stroke="#a3a3a3" stroke-width=".6"/><path d="M822.5 399.5L825.5 398.0L828.8 402.0L824.5 405.5L822.2 403.5Z" fill="#dedede" stroke="#a3a3a3" stroke-width=".6"/></g></svg>
<div style="left:746.3px;top:457px;width:130.5px;height:19.6px;background:#2f5597;border-radius:0px;"></div>
<div style="left:876.8px;top:457px;width:92.9px;height:19.6px;background:#a6a6a6;border-radius:0px;"></div>
<svg style="left:748px;top:478px" width="170" height="22"><circle cx="9.2" cy="12" r="6.9" fill="#2f5597"/><circle cx="148" cy="10" r="6.9" fill="#a6a6a6"/></svg>
<span style="left:68.00px;top:15.10px;font-size:21.88px;font-weight:bold;color:#454545;transform:scaleX(0.9845);text-shadow:0 0 .6px #454545;">Sales &amp; Marketing Call</span>
<span style="left:422.00px;top:4.97px;font-size:13.62px;color:#454545;transform:scaleX(0.9227);">Choose a Call Agent</span>
<span style="left:422.50px;top:33.96px;font-size:8.7px;color:#111;transform:scaleX(0.9072);">Liam Martinez</span>
<span style="left:600.00px;top:9.18px;font-size:12.32px;color:#3b4963;transform:scaleX(0.9872);text-shadow:0 0 .6px #3b4963;">Unfilter</span>
<span style="left:656.50px;top:7.48px;font-size:12.32px;color:#404040;transform:scaleX(0.9514);text-shadow:0 0 .5px #404040;">Filter by Call Time:</span>
<span style="left:598.75px;top:31.85px;font-size:10.0px;color:#fff;transform:scaleX(0.9914);text-shadow:0 0 .4px #fff;">Afternoon</span>
<span style="left:658.00px;top:31.85px;font-size:10.0px;color:#fff;transform:scaleX(0.9200);text-shadow:0 0 .4px #fff;">Evening</span>
<span style="left:718.25px;top:31.85px;font-size:10.0px;color:#fff;transform:scaleX(0.9615);text-shadow:0 0 .4px #fff;">Morning</span>
<span style="left:785.00px;top:8.84px;font-size:9.42px;color:#fff;transform:scaleX(0.8733);text-shadow:0 0 .4px #fff;">Jan</span>
<span style="left:785.00px;top:29.74px;font-size:9.42px;color:#fff;transform:scaleX(0.9351);text-shadow:0 0 .4px #fff;">Jul</span>
<span style="left:820.50px;top:8.84px;font-size:9.42px;color:#fff;transform:scaleX(0.9403);text-shadow:0 0 .4px #fff;">Feb</span>
<span style="left:820.50px;top:29.74px;font-size:9.42px;color:#fff;transform:scaleX(0.9701);text-shadow:0 0 .4px #fff;">Aug</span>
<span style="left:855.50px;top:8.84px;font-size:9.42px;color:#fff;transform:scaleX(1.0029);text-shadow:0 0 .4px #fff;">Mar</span>
<span style="left:855.50px;top:29.74px;font-size:9.42px;color:#fff;transform:scaleX(0.8657);text-shadow:0 0 .4px #fff;">Sep</span>
<span style="left:890.75px;top:8.84px;font-size:9.42px;color:#fff;transform:scaleX(1.0075);text-shadow:0 0 .4px #fff;">Apr</span>
<span style="left:890.75px;top:29.74px;font-size:9.42px;color:#fff;transform:scaleX(0.9733);text-shadow:0 0 .4px #fff;">Oct</span>
<span style="left:926.50px;top:8.84px;font-size:9.42px;color:#fff;transform:scaleX(0.9701);text-shadow:0 0 .4px #fff;">May</span>
<span style="left:926.50px;top:29.74px;font-size:9.42px;color:#fff;transform:scaleX(0.9860);text-shadow:0 0 .4px #fff;">Nov</span>
<span style="left:961.75px;top:8.84px;font-size:9.42px;color:#fff;transform:scaleX(0.9557);text-shadow:0 0 .4px #fff;">Jun</span>
<span style="left:961.75px;top:29.74px;font-size:9.42px;color:#fff;transform:scaleX(0.9412);text-shadow:0 0 .4px #fff;">Dec</span>
<span style="left:76.50px;top:82.75px;font-size:11.59px;color:#595959;transform:scaleX(0.9549);">Total Calls</span>
<span style="left:78.75px;top:108.29px;font-size:18.31px;color:#262626;transform:scaleX(1.0395);">200,000</span>
<span style="left:233.50px;top:82.75px;font-size:11.59px;color:#595959;transform:scaleX(0.8806);">Successful Calls</span>
<span style="left:245.00px;top:108.29px;font-size:18.31px;color:#262626;transform:scaleX(1.0631);">83,519</span>
<span style="left:409.25px;top:82.75px;font-size:11.59px;color:#595959;transform:scaleX(0.9215);">Failed Calls</span>
<span style="left:412.00px;top:108.29px;font-size:18.31px;color:#262626;transform:scaleX(1.0274);">71,837</span>
<span style="left:575.75px;top:82.75px;font-size:11.59px;color:#595959;transform:scaleX(0.9789);">Abandoned</span>
<span style="left:579.50px;top:108.29px;font-size:18.31px;color:#262626;transform:scaleX(1.0497);">44,644</span>
<span style="left:734.00px;top:96.25px;font-size:15.77px;color:#262626;transform:scaleX(0.9930);">137,352</span>
<span style="left:707.40px;top:123.16px;font-size:10.58px;color:#595959;transform:scaleX(0.9119);">Total Calls To Males</span>
<span style="left:896.25px;top:96.25px;font-size:15.77px;color:#262626;transform:scaleX(1.0107);">62,648</span>
<span style="left:865.50px;top:123.16px;font-size:10.58px;color:#595959;transform:scaleX(0.9038);">Total Calls To Females</span>
<span style="left:802.30px;top:79.36px;font-size:9.28px;font-weight:bold;color:#7595d6;transform:scaleX(0.9112);">69%</span>
<span style="left:965.30px;top:79.36px;font-size:9.28px;font-weight:bold;color:#7595d6;transform:scaleX(0.9112);">31%</span>
<span style="left:72.50px;top:158.03px;font-size:14.49px;color:#595959;transform:scaleX(0.8843);">Total Calls by Agent</span>
<span style="left:38.24px;top:190.80px;font-size:8.41px;color:#262626;transform:scaleX(0.8700);">Ava Sandoval</span>
<span style="left:208.65px;top:191.19px;font-size:8.31px;color:#262626;transform:scaleX(0.8700);">40,000</span>
<span style="left:35.69px;top:211.26px;font-size:8.41px;color:#262626;transform:scaleX(0.8700);">Elijah Hawkins</span>
<span style="left:186.21px;top:211.65px;font-size:8.31px;color:#262626;transform:scaleX(0.8700);">32,000</span>
<span style="left:49.51px;top:231.72px;font-size:8.41px;color:#262626;transform:scaleX(0.8700);">Drew Clay</span>
<span style="left:174.99px;top:232.11px;font-size:8.31px;color:#262626;transform:scaleX(0.8700);">28,000</span>
<span style="left:46.26px;top:252.18px;font-size:8.41px;color:#262626;transform:scaleX(0.8700);">Ray Mason</span>
<span style="left:152.55px;top:252.57px;font-size:8.31px;color:#262626;transform:scaleX(0.8700);">20,000</span>
<span style="left:43.68px;top:272.64px;font-size:8.41px;color:#262626;transform:scaleX(0.8700);">Olivia Lyons</span>
<span style="left:146.94px;top:273.03px;font-size:8.31px;color:#262626;transform:scaleX(0.8700);">18,000</span>
<span style="left:21.45px;top:293.10px;font-size:8.41px;color:#262626;transform:scaleX(0.8700);">Monique Lawrence</span>
<span style="left:141.33px;top:293.49px;font-size:8.31px;color:#262626;transform:scaleX(0.8700);">16,000</span>
<span style="left:38.93px;top:313.56px;font-size:8.41px;color:#262626;transform:scaleX(0.8700);">Michael Page</span>
<span style="left:130.11px;top:313.95px;font-size:8.31px;color:#262626;transform:scaleX(0.8700);">12,000</span>
<span style="left:37.32px;top:334.02px;font-size:8.41px;color:#262626;transform:scaleX(0.8700);">Liam Martinez</span>
<span style="left:124.50px;top:334.41px;font-size:8.31px;color:#262626;transform:scaleX(0.8700);">10,000</span>
<span style="left:39.75px;top:354.48px;font-size:8.41px;color:#262626;transform:scaleX(0.8700);">Zoe Newman</span>
<span style="left:118.89px;top:354.87px;font-size:8.31px;color:#262626;transform:scaleX(0.8700);">8,000</span>
<span style="left:29.58px;top:374.94px;font-size:8.41px;color:#262626;transform:scaleX(0.8700);">Sophia Delacruz</span>
<span style="left:113.28px;top:375.33px;font-size:8.31px;color:#262626;transform:scaleX(0.8700);">6,000</span>
<span style="left:40.84px;top:395.40px;font-size:8.41px;color:#262626;transform:scaleX(0.8700);">Sarah Walter</span>
<span style="left:107.67px;top:395.79px;font-size:8.31px;color:#262626;transform:scaleX(0.8700);">4,000</span>
<span style="left:30.82px;top:415.86px;font-size:8.41px;color:#262626;transform:scaleX(0.8700);">Katrina Williams</span>
<span style="left:107.67px;top:416.25px;font-size:8.31px;color:#262626;transform:scaleX(0.8700);">4,000</span>
<span style="left:37.72px;top:436.32px;font-size:8.41px;color:#262626;transform:scaleX(0.8700);">Samuel Smith</span>
<span style="left:102.06px;top:436.71px;font-size:8.31px;color:#262626;transform:scaleX(0.8700);">2,000</span>
<span style="left:84.86px;top:461.31px;font-size:8.17px;color:#fff;transform:scaleX(0.9200);">69.0%</span>
<span style="left:190.46px;top:461.31px;font-size:8.17px;color:#262626;transform:scaleX(0.8700);">31.00%</span>
<span style="left:44.00px;top:481.77px;font-size:9.86px;color:#2f5597;transform:scaleX(0.8839);text-shadow:0 0 .5px #2f5597;">Calls by Top-5 Agents</span>
<span style="left:186.50px;top:481.16px;font-size:9.28px;color:#7f7f7f;transform:scaleX(0.9618);">Others</span>
<span style="left:282.50px;top:161.78px;font-size:12.32px;color:#595959;transform:scaleX(1.0510);">Liam Martinez Call Outcome</span>
<span style="left:373.30px;top:194.02px;font-size:33.1px;color:#7b9bd9;transform:scaleX(0.9457);">89.9%</span>
<span style="left:354.00px;top:234.03px;font-size:14.49px;color:#595959;transform:scaleX(0.8539);">Calls Were Successful</span>
<span style="left:258.75px;top:285.56px;font-size:9.28px;font-weight:bold;color:#fff;transform:scaleX(0.9042);">Liam Martinez Average Customer Rating:</span>
<span style="left:460.50px;top:285.63px;font-size:10.14px;font-weight:bold;color:#fff;transform:scaleX(1.0655);">4.3</span>
<span style="left:259.50px;top:318.74px;font-size:9.42px;font-weight:bold;color:#fff;transform:scaleX(0.9045);">Liam Martinez Average Call Duration(Min):</span>
<span style="left:457.50px;top:319.59px;font-size:10.42px;font-weight:bold;color:#fff;transform:scaleX(1.0732);">16.6</span>
<span style="left:265.50px;top:345.22px;font-size:13.33px;color:#595959;transform:scaleX(0.9797);">Liam Martinez</span>
<span style="left:266.75px;top:363.29px;font-size:11.01px;color:#595959;transform:scaleX(0.8531);">Product Discussed on Calls</span>
<span style="left:358.00px;top:385.39px;font-size:7.83px;color:#262626;transform:scaleX(0.8279);">Success</span>
<span style="left:400.00px;top:385.39px;font-size:7.83px;color:#262626;transform:scaleX(0.9026);">Failiur</span>
<span style="left:266.39px;top:407.44px;font-size:8.84px;color:#262626;transform:scaleX(0.9000);">Travel Package</span>
<span style="left:361.77px;top:407.47px;font-size:9.15px;font-weight:bold;color:#fff;transform:scaleX(0.9000);">1,239</span>
<span style="left:437.88px;top:407.47px;font-size:9.15px;font-weight:bold;color:#fff;transform:scaleX(0.9000);">68</span>
<span style="left:299.64px;top:425.94px;font-size:8.84px;color:#262626;transform:scaleX(0.9000);">Loans</span>
<span style="left:361.97px;top:425.97px;font-size:9.15px;font-weight:bold;color:#fff;transform:scaleX(0.9000);">2,948</span>
<span style="left:435.79px;top:425.97px;font-size:9.15px;font-weight:bold;color:#fff;transform:scaleX(0.9000);">159</span>
<span style="left:261.23px;top:444.69px;font-size:8.84px;color:#262626;transform:scaleX(0.9000);">Internet Package</span>
<span style="left:362.82px;top:444.72px;font-size:9.15px;font-weight:bold;color:#fff;transform:scaleX(0.9000);">2,873</span>
<span style="left:436.64px;top:444.72px;font-size:9.15px;font-weight:bold;color:#fff;transform:scaleX(0.9000);">150</span>
<span style="left:286.40px;top:463.44px;font-size:8.84px;color:#262626;transform:scaleX(0.9000);">Insurance</span>
<span style="left:355.79px;top:463.47px;font-size:9.15px;font-weight:bold;color:#fff;transform:scaleX(0.9000);">415</span>
<span style="left:428.48px;top:463.47px;font-size:9.15px;font-weight:bold;color:#fff;transform:scaleX(0.9000);">30</span>
<span style="left:282.43px;top:481.94px;font-size:8.84px;color:#262626;transform:scaleX(0.9000);">Electronics</span>
<span style="left:358.57px;top:481.97px;font-size:9.15px;font-weight:bold;color:#fff;transform:scaleX(0.9000);">1,518</span>
<span style="left:434.68px;top:481.97px;font-size:9.15px;font-weight:bold;color:#fff;transform:scaleX(0.9000);">92</span>
<span style="left:535.50px;top:158.95px;font-size:11.88px;color:#595959;transform:scaleX(0.9385);">Reasons why Liam Martinez</span>
<span style="left:563.25px;top:173.45px;font-size:11.88px;color:#595959;transform:scaleX(0.9369);">Abandoned Calls</span>
<span style="left:509.96px;top:200.80px;font-size:8.12px;color:#262626;transform:scaleX(0.9250);">Technical Issues</span>
<span style="left:678.75px;top:201.16px;font-size:8.17px;font-weight:bold;color:#262626;transform:scaleX(0.9200);">477</span>
<span style="left:515.67px;top:229.05px;font-size:8.12px;color:#262626;transform:scaleX(0.9250);">long Wait Time</span>
<span style="left:582.50px;top:229.41px;font-size:8.17px;font-weight:bold;color:#262626;transform:scaleX(0.9200);">9</span>
<span style="left:500.78px;top:257.30px;font-size:8.12px;color:#262626;transform:scaleX(0.9250);">Customer Hung Up</span>
<span style="left:582.00px;top:257.66px;font-size:8.17px;font-weight:bold;color:#262626;transform:scaleX(0.9200);">5</span>
<span style="left:499.66px;top:285.55px;font-size:8.12px;color:#262626;transform:scaleX(0.9250);">Agent Not Available</span>
<span style="left:582.50px;top:285.91px;font-size:8.17px;font-weight:bold;color:#262626;transform:scaleX(0.9200);">8</span>
<span style="left:504.50px;top:326.22px;font-size:12.03px;color:#595959;transform:scaleX(0.9762);">Liam Martinez Monthly</span>
<span style="left:539.00px;top:340.52px;font-size:12.03px;color:#595959;transform:scaleX(0.9406);">call Trend</span>
<span style="left:601.75px;top:357.73px;font-size:8.26px;color:#4472c4;transform:scaleX(0.8802);">Max Call</span>
<span style="left:609.80px;top:367.94px;font-size:7.89px;color:#4472c4;transform:scaleX(0.9056);">885</span>
<span style="left:634.50px;top:447.78px;font-size:8.55px;font-weight:bold;color:#1a1a1a;transform:scaleX(0.8260);">Min Calls</span>
<span style="left:643.80px;top:458.12px;font-size:8.03px;font-weight:bold;color:#1a1a1a;transform:scaleX(0.9346);">756</span>
<span style="left:505.68px;top:485.73px;font-size:8.26px;color:#262626;transform:scaleX(0.8000);">Jan</span>
<span style="left:522.63px;top:485.73px;font-size:8.26px;color:#262626;transform:scaleX(0.8000);">Feb</span>
<span style="left:539.95px;top:485.73px;font-size:8.26px;color:#262626;transform:scaleX(0.8000);">Mar</span>
<span style="left:557.82px;top:485.73px;font-size:8.26px;color:#262626;transform:scaleX(0.8000);">Apr</span>
<span style="left:574.04px;top:485.73px;font-size:8.26px;color:#262626;transform:scaleX(0.8000);">May</span>
<span style="left:592.27px;top:485.73px;font-size:8.26px;color:#262626;transform:scaleX(0.8000);">Jun</span>
<span style="left:610.70px;top:485.73px;font-size:8.26px;color:#262626;transform:scaleX(0.8000);">Jul</span>
<span style="left:626.37px;top:485.73px;font-size:8.26px;color:#262626;transform:scaleX(0.8000);">Aug</span>
<span style="left:643.68px;top:485.73px;font-size:8.26px;color:#262626;transform:scaleX(0.8000);">Sep</span>
<span style="left:661.74px;top:485.73px;font-size:8.26px;color:#262626;transform:scaleX(0.8000);">Oct</span>
<span style="left:678.33px;top:485.73px;font-size:8.26px;color:#262626;transform:scaleX(0.8000);">Nov</span>
<span style="left:695.65px;top:485.73px;font-size:8.26px;color:#262626;transform:scaleX(0.8000);">Dec</span>
<span style="left:739.30px;top:160.43px;font-size:12.61px;color:#595959;transform:scaleX(0.9066);">States where Liam Martinez</span>
<span style="left:777.25px;top:175.48px;font-size:12.32px;color:#595959;transform:scaleX(0.9187);">call custmers</span>
<span style="left:927.40px;top:165.04px;font-size:9.42px;color:#fff;transform:scaleX(0.9399);text-shadow:0 0 .5px #fff;">Show Chart</span>
<span style="left:768.25px;top:268.51px;font-size:6.34px;font-weight:bold;color:#1c1c1c;transform:scaleX(1.0500);text-shadow:0 0 1.2px #fff;">542</span>
<span style="left:762.95px;top:288.41px;font-size:6.34px;font-weight:bold;color:#1c1c1c;transform:scaleX(1.0500);text-shadow:0 0 1.2px #fff;">184</span>
<span style="left:771.11px;top:317.51px;font-size:6.34px;font-weight:bold;color:#fff;transform:scaleX(1.0500);">1014</span>
<span style="left:753.89px;top:328.41px;font-size:6.34px;font-weight:bold;color:#fff;transform:scaleX(1.0500);">1162</span>
<span style="left:820.65px;top:326.31px;font-size:6.34px;font-weight:bold;color:#fff;transform:scaleX(1.0500);">819</span>
<span style="left:789.35px;top:349.61px;font-size:6.34px;font-weight:bold;color:#1c1c1c;transform:scaleX(1.0500);text-shadow:0 0 1.2px #fff;">612</span>
<span style="left:846.55px;top:372.91px;font-size:6.34px;font-weight:bold;color:#fff;transform:scaleX(1.0500);">821</span>
<span style="left:910.05px;top:303.81px;font-size:6.34px;font-weight:bold;color:#1c1c1c;transform:scaleX(1.0500);text-shadow:0 0 1.2px #fff;">167</span>
<span style="left:892.45px;top:322.11px;font-size:6.34px;font-weight:bold;color:#1c1c1c;transform:scaleX(1.0500);text-shadow:0 0 1.2px #fff;">100</span>
<span style="left:921.70px;top:318.11px;font-size:6.34px;font-weight:bold;color:#1c1c1c;transform:scaleX(1.0500);text-shadow:0 0 1.2px #fff;">96</span>
<span style="left:939.95px;top:311.31px;font-size:6.34px;font-weight:bold;color:#1c1c1c;transform:scaleX(1.0500);text-shadow:0 0 1.2px #fff;">102</span>
<span style="left:915.85px;top:333.31px;font-size:6.34px;font-weight:bold;color:#1c1c1c;transform:scaleX(1.0500);text-shadow:0 0 1.2px #fff;">107</span>
<span style="left:940.90px;top:331.01px;font-size:6.34px;font-weight:bold;color:#1c1c1c;transform:scaleX(1.0500);text-shadow:0 0 1.2px #fff;">95</span>
<span style="left:952.98px;top:297.51px;font-size:6.34px;font-weight:bold;color:#fff;transform:scaleX(1.0500);">1...</span>
<span style="left:943.72px;top:341.31px;font-size:6.34px;font-weight:bold;color:#fff;transform:scaleX(1.0500);">11...</span>
<span style="left:906.65px;top:362.31px;font-size:6.34px;font-weight:bold;color:#1c1c1c;transform:scaleX(1.0500);text-shadow:0 0 1.2px #fff;">284</span>
<span style="left:922.64px;top:361.81px;font-size:6.34px;font-weight:bold;color:#1c1c1c;transform:scaleX(1.0500);text-shadow:0 0 1.2px #fff;">511</span>
<span style="left:797.60px;top:463.31px;font-size:8.87px;color:#fff;transform:scaleX(0.9350);">58.52%</span>
<span style="left:909.02px;top:463.31px;font-size:8.87px;color:#3a3a3a;transform:scaleX(0.9400);">41.48%</span>
<span style="left:971.00px;top:467.11px;font-size:4.4px;color:#fff;transform:scaleX(0.8870);opacity:.85;">by Bing</span>
<span style="left:910.00px;top:473.71px;font-size:4.4px;color:#f4f4f4;transform:scaleX(1.1236);opacity:.75;">© GeoNames, Microsoft, TomTom</span>
<span style="left:768.20px;top:484.96px;font-size:9.28px;color:#2f5597;transform:scaleX(0.9360);text-shadow:0 0 .5px #2f5597;">Calls by Top-5 States</span>
<span style="left:909.80px;top:484.91px;font-size:8.99px;color:#333;transform:scaleX(0.9789);">Others</span>
</div></body></html>
